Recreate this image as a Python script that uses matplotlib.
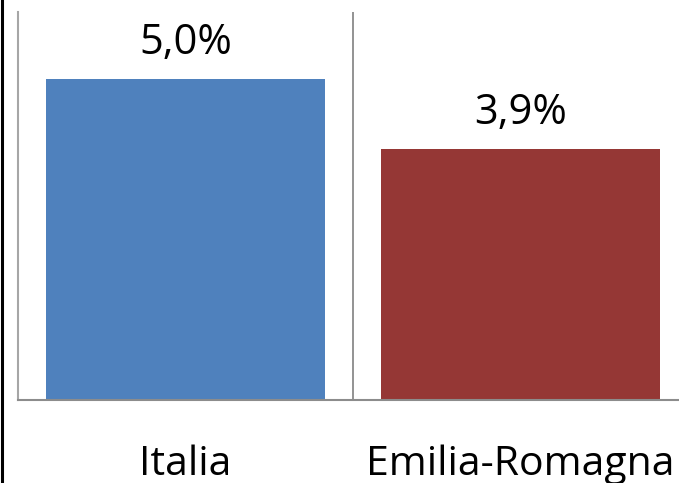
import matplotlib
matplotlib.use('Agg')
import matplotlib.pyplot as plt
from matplotlib.lines import Line2D

regions = ['Italia', 'Emilia-Romagna']
rates = [5.0, 3.9]
labels = ['5,0%', '3,9%']
colors = ['#4F81BD', '#953735']

plt.rcParams['font.family'] = ['Open Sans', 'DejaVu Sans']

fig = plt.figure(figsize=(6.79, 4.83), dpi=100)
ax = fig.add_axes([18 / 679, 83 / 483, 670 / 679, 388 / 483])

x = range(len(regions))
bars = ax.bar(x, rates, width=0.83, color=colors, zorder=2)

for b, lab in zip(bars, labels):
    ax.annotate(lab, (b.get_x() + b.get_width() / 2, b.get_height()),
                xytext=(0, 18), textcoords='offset points',
                ha='center', va='baseline', fontsize=30)

ax.set_xlim(-0.5, 1.5)
ax.set_ylim(0, 6.04)
ax.set_yticks([])
ax.set_xticks(list(x))
ax.set_xticklabels(regions, fontsize=29.5)
ax.tick_params(axis='x', length=0, pad=54)
plt.setp(ax.get_xticklabels(), va='baseline')

# category divider and axis lines
ax.axvline(0.5, color='#808080', lw=1.2, zorder=1)
for s in ['top', 'right']:
    ax.spines[s].set_visible(False)
ax.spines['left'].set_color('#a6a6a6')
ax.spines['left'].set_linewidth(1.5)
ax.spines['bottom'].set_color('#8c8c8c')
ax.spines['bottom'].set_linewidth(1.5)

# outer frame edge on the left
fig.add_artist(Line2D([2 / 679, 2 / 679], [0, 1], color='black', lw=2.2,
                      transform=fig.transFigure))

fig.savefig('out.png', dpi=100)
